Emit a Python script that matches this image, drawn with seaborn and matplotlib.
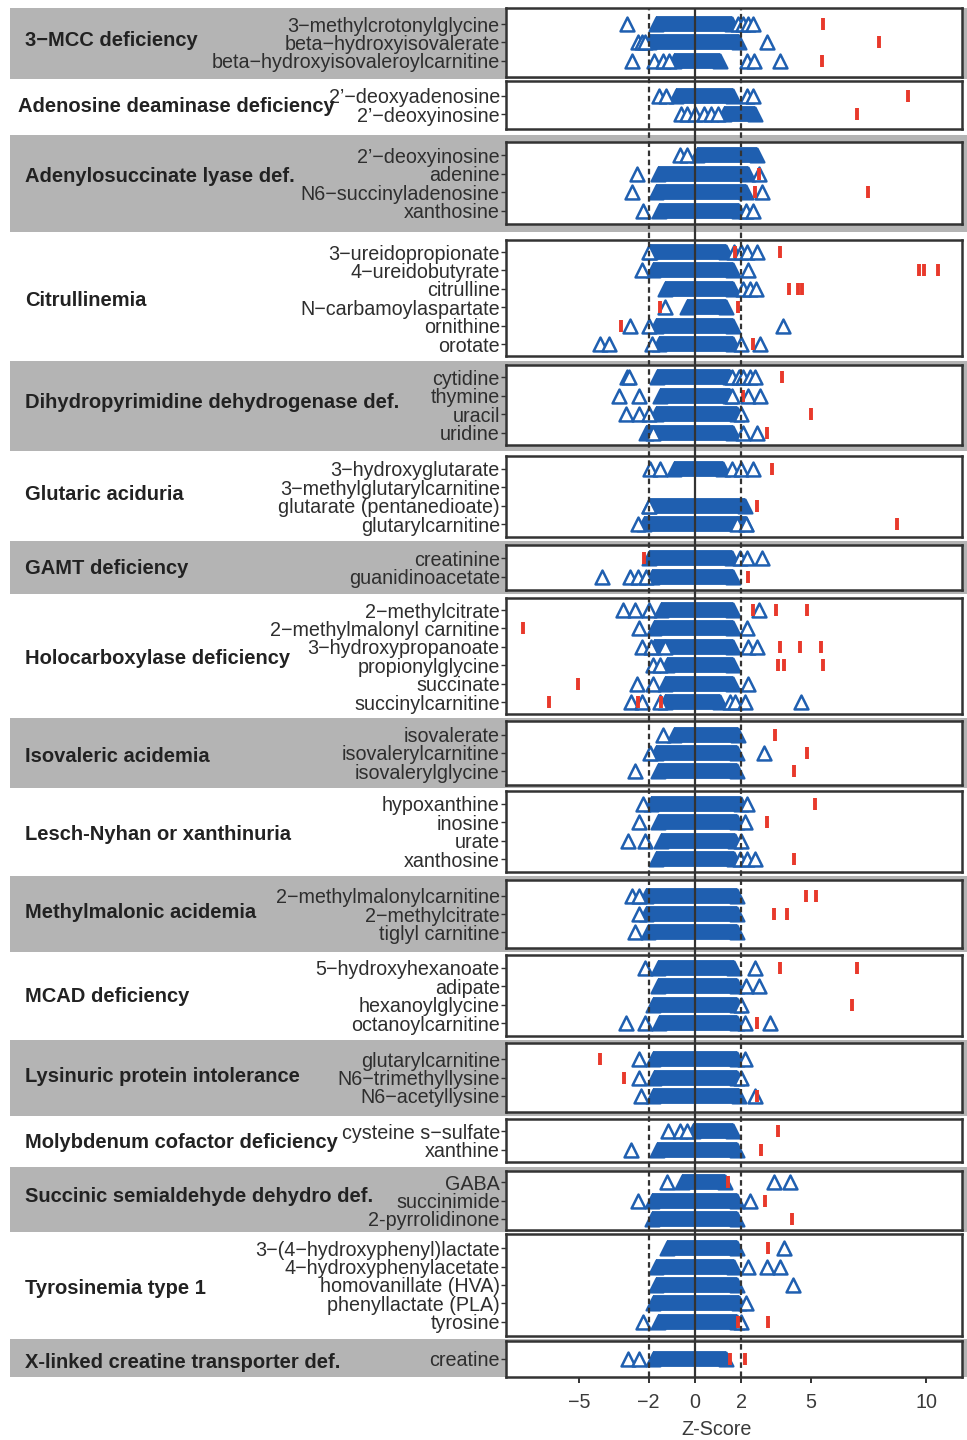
import pandas as pd
import matplotlib
matplotlib.use("Agg")
import matplotlib.pyplot as plt
import seaborn as sns
from matplotlib.patches import Rectangle

# -------------------------------
# Data
# -------------------------------
group_names = [
    "3\u2212MCC deficiency", "Adenosine deaminase deficiency", "Adenylosuccinate lyase def.",
    "Citrullinemia", "Dihydropyrimidine dehydrogenase def.", "Glutaric aciduria",
    "GAMT deficiency", "Holocarboxylase deficiency", "Isovaleric acidemia",
    "Lesch-Nyhan or xanthinuria", "Methylmalonic acidemia", "MCAD deficiency",
    "Lysinuric protein intolerance", "Molybdenum cofactor deficiency",
    "Succinic semialdehyde dehydro def.", "Tyrosinemia type 1", "X-linked creatine transporter def.",
]
group_nrows = [3, 2, 4, 6, 4, 4, 2, 6, 3, 4, 3, 4, 3, 2, 3, 5, 1]

M = "\u2212"
row_labels = [
    f"3{M}methylcrotonylglycine", f"beta{M}hydroxyisovalerate", f"beta{M}hydroxyisovaleroylcarnitine",
    f"2\u2019{M}deoxyadenosine", f"2\u2019{M}deoxyinosine",
    f"2\u2019{M}deoxyinosine", "adenine", f"N6{M}succinyladenosine", "xanthosine",
    f"3{M}ureidopropionate", f"4{M}ureidobutyrate", "citrulline", f"N{M}carbamoylaspartate", "ornithine", "orotate",
    "cytidine", "thymine", "uracil", "uridine",
    f"3{M}hydroxyglutarate", f"3{M}methylglutarylcarnitine", "glutarate (pentanedioate)", "glutarylcarnitine",
    "creatinine", "guanidinoacetate",
    f"2{M}methylcitrate", f"2{M}methylmalonyl carnitine", f"3{M}hydroxypropanoate", "propionylglycine",
    "succinate", "succinylcarnitine",
    "isovalerate", "isovalerylcarnitine", "isovalerylglycine",
    "hypoxanthine", "inosine", "urate", "xanthosine",
    f"2{M}methylmalonylcarnitine", f"2{M}methylcitrate", "tiglyl carnitine",
    f"5{M}hydroxyhexanoate", "adipate", "hexanoylglycine", "octanoylcarnitine",
    "glutarylcarnitine", f"N6{M}trimethyllysine", f"N6{M}acetyllysine",
    f"cysteine s{M}sulfate", "xanthine",
    "GABA", "succinimide", "2-pyrrolidinone",
    f"3{M}(4{M}hydroxyphenyl)lactate", f"4{M}hydroxyphenylacetate", "homovanillate (HVA)",
    "phenyllactate (PLA)", "tyrosine",
    "creatine",
]

# dense core of the control cloud (first/last triangle of the solid run)
ctrl_lo = [
    -1.7, -2.0, -0.9,
    -0.8, 1.25,
    0.1, -1.6, -1.7, -1.55,
    -1.95, -1.8, -1.3, -0.35, -1.7, -1.55,
    -1.65, -1.5, -1.7, -2.1,
    -0.9, None, -2.0, -2.2,
    -2.0, -1.85,
    -1.45, -1.75, -1.75, -1.2, -1.3, -1.3,
    -0.9, -1.7, -1.6,
    -1.9, -1.6, -1.45, -1.7,
    -2.1, -2.1, -2.05,
    -1.6, -1.6, -1.8, -1.55,
    -1.8, -1.75, -1.8,
    -0.1, -1.65,
    -0.55, -1.85, -1.85,
    -1.2, -1.7, -1.7, -1.8, -1.6,
    -1.8,
]
ctrl_hi = [
    1.6, 1.9, 1.1,
    1.65, 2.6,
    2.7, 2.3, 2.2, 1.9,
    1.35, 1.65, 1.65, 1.35, 1.65, 1.65,
    1.5, 1.5, 1.8, 1.65,
    1.2, None, 2.15, 2.2,
    1.6, 1.65,
    1.65, 1.65, 1.65, 1.65, 1.65, 1.1,
    1.85, 1.8, 1.8,
    2.0, 1.8, 1.75, 1.7,
    1.8, 1.8, 1.8,
    1.7, 1.8, 1.8, 1.8,
    1.8, 1.8, 1.9,
    1.65, 1.8,
    1.3, 1.8, 1.8,
    1.8, 1.7, 1.8, 1.9, 1.8,
    1.35,
]
# separate control triangles outside the dense core
ctrl_extra = [
    [-2.95, 1.85, 2.1, 2.3, 2.5], [-2.45, -2.3, -2.15, 3.1], [-2.7, -1.75, -1.4, -1.1, 2.25, 2.55, 3.7],
    [-1.55, -1.25, 2.25, 2.5], [-0.6, -0.35, 0.0, 0.4, 0.7, 1.0],
    [-0.65, -0.35], [-2.5, 2.75], [-2.7, 2.9], [-2.25, 2.2, 2.5],
    [-2.0, 1.7, 2.0, 2.25, 2.7], [-2.3, 2.3], [2.1, 2.4, 2.65], [-1.3], [-2.8, -2.0, 3.8], [-4.1, -3.7, -1.85, 2.0, 2.8],
    [-2.95, -2.85, 1.6, 1.9, 2.1, 2.4, 2.6], [-3.3, -2.4, 1.6, 2.3, 2.8], [-3.0, -2.4, -2.0, 2.0], [-1.8, 2.1, 2.7],
    [-1.95, -1.5, 1.6, 2.0, 2.5], [], [-2.0], [-2.45, 1.8, 2.2],
    [1.95, 2.25, 2.9], [-4.0, -2.8, -2.45, -2.1],
    [-3.1, -2.6, -2.0, 2.75], [-2.4, 2.25], [-2.3, -1.9, -1.3, 2.3, 2.7], [-1.8, -1.5], [-2.5, -1.8, 2.3],
    [-2.75, -2.3, -1.5, 1.5, 1.75, 2.15, 4.6],
    [-1.4], [-1.95, 3.0], [-2.6],
    [-2.25, 2.25], [-2.4, 2.15], [-2.9, -2.15, 2.0], [1.95, 2.25, 2.6],
    [-2.7, -2.4], [-2.4], [-2.6],
    [-2.15, 2.6], [2.2, 2.75], [2.0], [-3.0, -2.15, 2.15, 3.25],
    [-2.4, 2.15], [-2.4, 2.0], [-2.35, 2.6],
    [-1.15, -0.65, -0.35], [-2.75],
    [-1.2, 3.4, 4.1], [-2.45, 2.4], [],
    [3.85], [2.3, 3.1, 3.7], [4.25], [2.2], [-2.25, 2.0],
    [-2.9, -2.4],
]
# patients (red ticks)
patient_z = [
    [5.55], [7.95], [5.5],
    [9.2], [7.0],
    [], [2.75], [2.6, 7.5], [],
    [1.75, 3.7], [9.7, 9.9, 10.5], [4.05, 4.45, 4.65], [-1.5, 1.85], [-3.2], [2.5],
    [3.75], [2.1], [5.0], [3.1],
    [3.35], [], [2.7], [8.75],
    [-2.2], [2.3],
    [2.5, 3.5, 4.85], [-7.45], [3.7, 4.55, 5.45], [3.6, 3.85, 5.55], [-5.05], [-6.3, -2.45, -1.45],
    [3.45], [4.85], [4.3],
    [5.2], [3.1], [], [4.3],
    [4.8, 5.25], [3.4, 4.0], [],
    [3.7, 7.0], [], [6.8], [2.7],
    [-4.1], [-3.05], [2.7],
    [3.6], [2.85],
    [1.45], [3.05], [4.2],
    [3.15], [], [], [], [1.85, 3.15],
    [1.5, 2.15],
]
x_ticks = [-5, -2, 0, 2, 5, 10]
x_lim = (-8.17, 11.55)

BLUE = "#1f5fb0"
RED = "#e8392b"
GRAY = "#b4b4b4"
DARK = "#333333"

# panel layout in pixels (top/bottom edge of each facet), row pitch, group label spots
panel_top = [8, 81, 142, 240, 365, 456, 545, 598, 721, 791, 880, 955, 1043, 1119, 1171, 1234, 1341]
panel_bot = [77, 129, 224, 356, 445, 537, 590, 714, 785, 872, 948, 1036, 1112, 1162, 1230, 1336, 1377]
ROW = 18.4
label_y = [41, 107, 177, 301, 403, 495, 569, 659, 756, 834, 913, 996, 1077, 1143, 1197, 1289, 1363]
label_x = [25, 18] + [25] * 15

# -------------------------------
# Long tables
# -------------------------------
grp_of_row, pos_of_row = [], []
for g, n in enumerate(group_nrows):
    grp_of_row += [g] * n
    pos_of_row += list(range(n))

ctrl_pts, end_pts, pat_pts, core = [], [], [], []
for i in range(len(row_labels)):
    g, y = grp_of_row[i], pos_of_row[i]
    if ctrl_lo[i] is not None:
        core.append((g, y, ctrl_lo[i], ctrl_hi[i]))
        end_pts += [(g, y, ctrl_lo[i]), (g, y, ctrl_hi[i])]
    ctrl_pts += [(g, y, z) for z in ctrl_extra[i]]
    pat_pts += [(g, y, z) for z in patient_z[i]]

ctrl = pd.DataFrame(ctrl_pts, columns=["group", "row", "z"])
ends = pd.DataFrame(end_pts, columns=["group", "row", "z"])
pat = pd.DataFrame(pat_pts, columns=["group", "row", "z"])
core = pd.DataFrame(core, columns=["group", "row", "lo", "hi"])

# -------------------------------
# Plot
# -------------------------------
sns.set_theme(style="white")
plt.rcParams["font.family"] = ["Liberation Sans", "DejaVu Sans"]

W, H = 967, 1440
fig = plt.figure(figsize=(W / 100, H / 100), dpi=100)
left, right = 506 / W, 962 / W

axes = []
for g, n in enumerate(group_nrows):
    t, b = panel_top[g], panel_bot[g]
    ax = fig.add_axes([left, 1 - b / H, right - left, (b - t) / H])
    axes.append(ax)
    cg = core[core.group == g]
    ax.hlines(cg.row, cg.lo, cg.hi, color=BLUE, linewidth=11.4, capstyle="butt", zorder=2)
    sns.scatterplot(data=ends[ends.group == g], x="z", y="row", ax=ax, marker="^", s=100,
                    color=BLUE, edgecolor=BLUE, linewidth=1.6, zorder=2.5, legend=False)
    sub = ctrl[ctrl.group == g]
    if len(sub):
        sns.scatterplot(data=sub, x="z", y="row", ax=ax, marker="^", s=100, color="white",
                        edgecolor=BLUE, linewidth=1.8, zorder=3, legend=False)
    sub = pat[pat.group == g]
    if len(sub):
        sns.scatterplot(data=sub, x="z", y="row", ax=ax, marker="|", s=72, color=RED,
                        linewidth=2.8, zorder=4, legend=False)
    labels = [row_labels[i] for i in range(len(row_labels)) if grp_of_row[i] == g]
    ax.set_yticks(range(n))
    ax.set_yticklabels(labels)
    p = ((b - t) / ROW - (n - 1)) / 2
    ax.set_ylim(n - 1 + p, -p)
    ax.set_xlim(*x_lim)
    ax.set_xlabel("")
    ax.set_ylabel("")
    for sp in ax.spines.values():
        sp.set_visible(True)
        sp.set_color(DARK)
        sp.set_linewidth(1.8)
    ax.tick_params(axis="y", left=True, length=3.5, width=1, color=DARK,
                   labelsize=14.2, labelcolor="#2e2e2e", pad=1)
    if g < len(group_nrows) - 1:
        ax.tick_params(axis="x", bottom=False, labelbottom=False)
    else:
        ax.set_xticks(x_ticks)
        ax.tick_params(axis="x", bottom=True, length=4.5, width=1.4, color=DARK,
                       labelsize=14.2, labelcolor="#3a3a3a", pad=7)
        ax.set_xlabel("Z-Score", fontsize=14.2, color="#3a3a3a", labelpad=6)
        ax.xaxis.label.set_x((717 - 506) / (962 - 506))

# gray strips and group names
for g in range(len(group_names)):
    if g % 2 == 0:
        y_top = panel_top[g] if g == 0 else (panel_bot[g - 1] + panel_top[g]) / 2
        y_bot = panel_bot[g] if g == len(group_names) - 1 else (panel_bot[g] + panel_top[g + 1]) / 2
        fig.patches.append(Rectangle((10 / W, 1 - y_bot / H), 1 - 10 / W, (y_bot - y_top) / H,
                                     transform=fig.transFigure, facecolor=GRAY,
                                     edgecolor="none", zorder=-1))
    fig.text(label_x[g] / W, 1 - label_y[g] / H, group_names[g], fontsize=14.5, fontweight="bold",
             color="#222222", ha="left", va="center")

# reference lines at -2, 0, 2 running through all panels
ov = fig.add_axes([left, 1 - panel_bot[-1] / H, right - left, (panel_bot[-1] - panel_top[0]) / H], zorder=5)
ov.set_xlim(*x_lim)
ov.set_ylim(0, 1)
ov.patch.set_visible(False)
ov.axis("off")
ov.axvline(0, color=DARK, linewidth=1.6)
for x in (-2, 2):
    ov.axvline(x, color=DARK, linewidth=1.6, linestyle=(0, (2.5, 1.6)))

fig.savefig("out.png", dpi=100, facecolor="white")
